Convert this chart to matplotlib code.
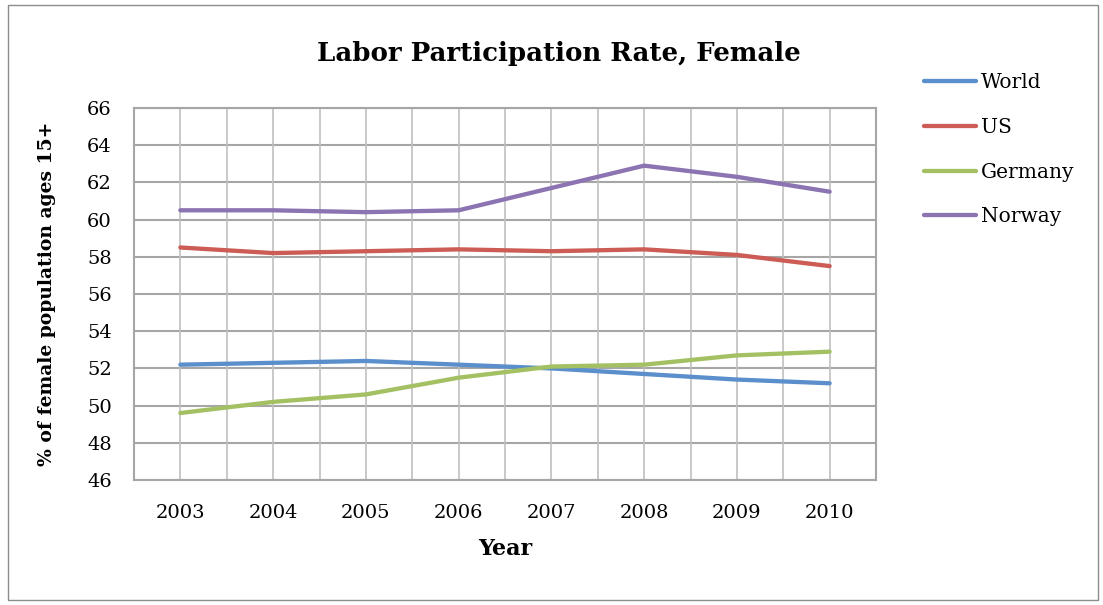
import matplotlib.pyplot as plt
import matplotlib.patches as patches
import numpy as np

years = [2003, 2004, 2005, 2006, 2007, 2008, 2009, 2010]
world = [52.2, 52.3, 52.4, 52.2, 52.0, 51.7, 51.4, 51.2]
us = [58.5, 58.2, 58.3, 58.4, 58.3, 58.4, 58.1, 57.5]
germany = [49.6, 50.2, 50.6, 51.5, 52.1, 52.2, 52.7, 52.9]
norway = [60.5, 60.5, 60.4, 60.5, 61.7, 62.9, 62.3, 61.5]

series = [('World', world, '#5a8fcb'), ('US', us, '#cc5c55'),
          ('Germany', germany, '#a3c163'), ('Norway', norway, '#8c73b1')]

plt.rcParams['font.family'] = ['DejaVu Serif']

fig = plt.figure(figsize=(11.03, 6.05), dpi=100)
ax = fig.add_axes([134 / 1103, 1 - 480 / 605, (876 - 134) / 1103, (480 - 108) / 605])

# outer chart border
fig.patches.append(patches.Rectangle((8 / 1103, 5 / 605), 1090 / 1103, 595 / 605,
                                     transform=fig.transFigure, fill=False,
                                     edgecolor='#8c8c8c', linewidth=1))

for name, vals, col in series:
    ax.plot(years, vals, color=col, linewidth=3.1, label=name, solid_capstyle='round', zorder=3)

ax.set_xlim(years[0] - 0.5, years[-1] + 0.5)
ax.set_ylim(46, 66)
ax.set_yticks(np.arange(46, 67, 2))
ax.set_xticks(years)
for gx in np.arange(years[0] - 0.5, years[-1] + 0.6, 0.5):
    ax.axvline(gx, color='#c0c0c0', linewidth=1.2, zorder=1)
ax.grid(axis='y', which='major', color='#a6a6a6', linewidth=1.5, zorder=1)
ax.set_axisbelow(True)
ax.tick_params(axis='both', which='both', length=0, labelsize=14)
ax.tick_params(axis='y', pad=16)
ax.tick_params(axis='x', pad=17)
for s in ax.spines.values():
    s.set_color('#a6a6a6')
    s.set_linewidth(1.5)

ax.set_xlabel('Year', fontsize=16, fontweight='bold', labelpad=12)
ax.set_ylabel('% of female population ages 15+', fontsize=13.5, fontweight='bold', labelpad=22)
fig.text(559 / 1103, 1 - 54 / 605, 'Labor Participation Rate, Female', fontsize=18.7,
         fontweight='bold', ha='center', va='center')

fig.legend(loc='upper left', bbox_to_anchor=(906 / 1103, 1 - 55 / 605), frameon=False,
           fontsize=14.5, handlelength=2.6, handletextpad=0.2, labelspacing=1.28)

fig.savefig('out.png', dpi=100)
